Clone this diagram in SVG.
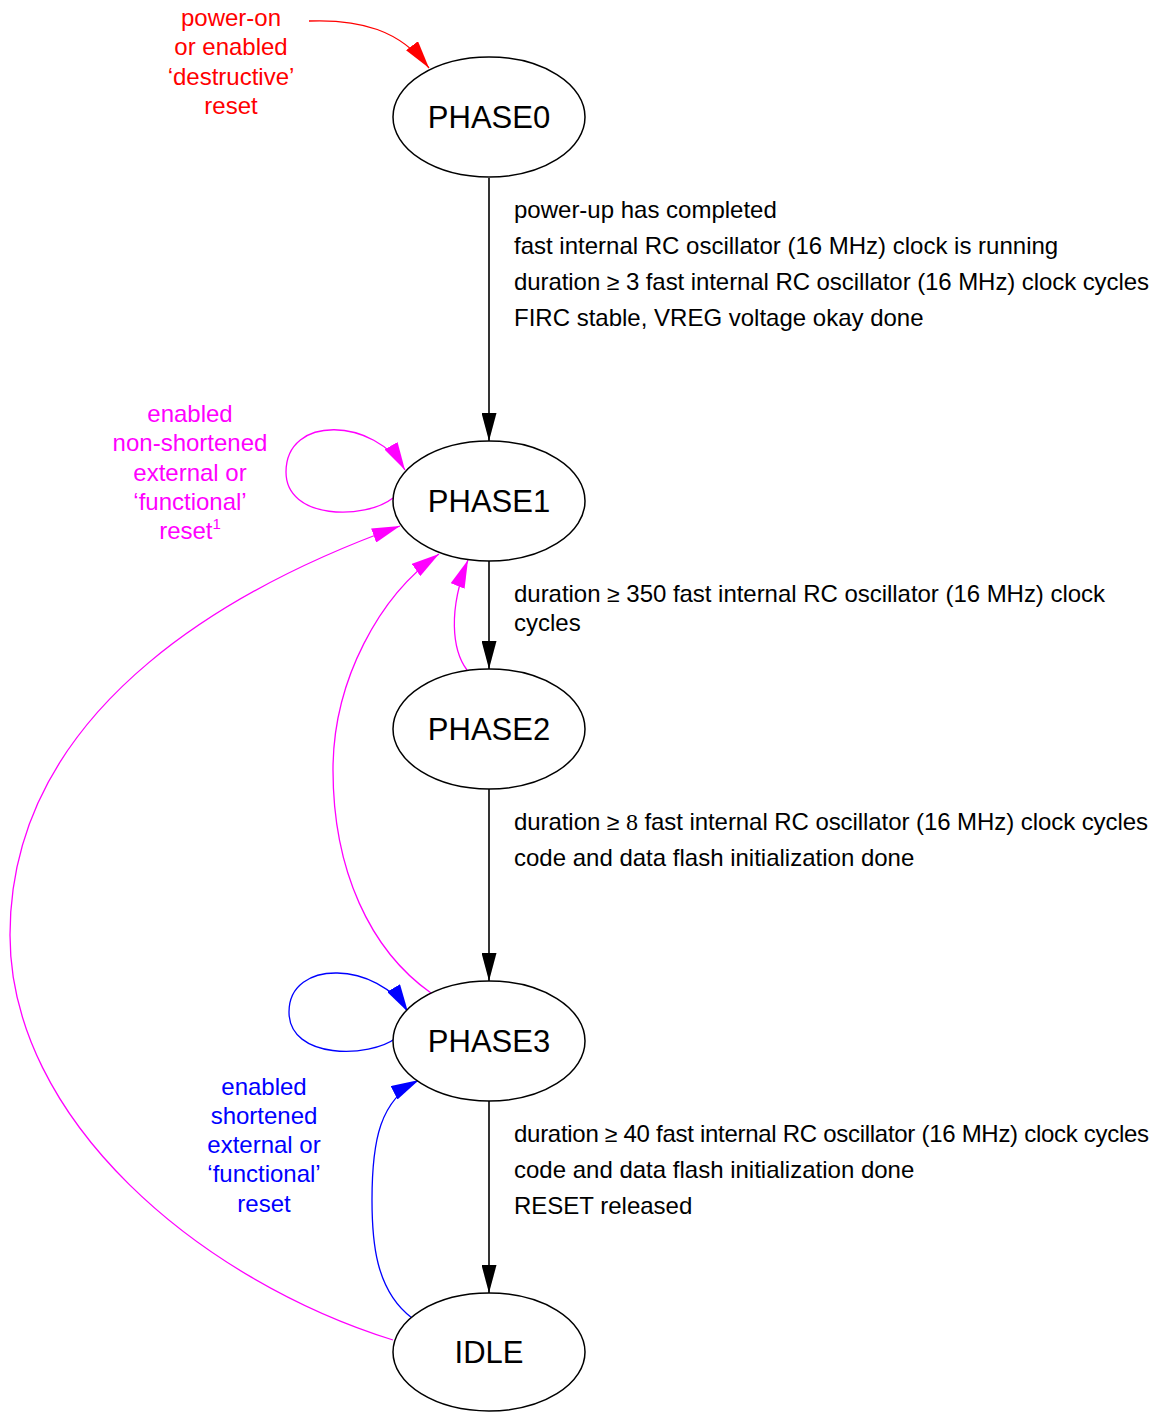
<svg xmlns="http://www.w3.org/2000/svg" width="1156" height="1412" viewBox="0 0 1156 1412">
<style>
text{font-family:"Liberation Sans",Arial,Helvetica,sans-serif}
.node ellipse{fill:#fff;stroke:#000;stroke-width:1.5}
.nl{font-size:31px;text-anchor:middle;fill:#000}
.el{font-size:24px;fill:#000}
.cl{font-size:24px;text-anchor:middle}
.ge{font-size:23px}
.e{fill:none;stroke-width:1.3}
.k{stroke:#000;stroke-width:1.6}
.r{stroke:#f00}
.m{stroke:#f0f}
.b{stroke:#00f}
</style>
<defs>
<marker id="ak" viewBox="0 0 28 15" refX="28" refY="7.5" markerWidth="28" markerHeight="15" markerUnits="userSpaceOnUse" orient="auto"><path d="M0,0 L28,7.5 L0,15 z" fill="#000"/></marker>
<marker id="ar" viewBox="0 0 28 15" refX="28" refY="7.5" markerWidth="28" markerHeight="15" markerUnits="userSpaceOnUse" orient="auto"><path d="M0,0 L28,7.5 L0,15 z" fill="#f00"/></marker>
<marker id="am" viewBox="0 0 28 15" refX="28" refY="7.5" markerWidth="28" markerHeight="15" markerUnits="userSpaceOnUse" orient="auto"><path d="M0,0 L28,7.5 L0,15 z" fill="#f0f"/></marker>
<marker id="ab" viewBox="0 0 28 15" refX="28" refY="7.5" markerWidth="28" markerHeight="15" markerUnits="userSpaceOnUse" orient="auto"><path d="M0,0 L28,7.5 L0,15 z" fill="#00f"/></marker>
</defs>
<g id="connectors">
<path class="e k" d="M489,178 L489,441" marker-end="url(#ak)"/>
<path class="e k" d="M489,561 L489,669" marker-end="url(#ak)"/>
<path class="e k" d="M489,789 L489,981" marker-end="url(#ak)"/>
<path class="e k" d="M489,1101 L489,1293" marker-end="url(#ak)"/>
<path class="e r" d="M309,21 C360,19 400,30 429,68" marker-end="url(#ar)"/>
<path class="e m" d="M393,498 C365,520 286,520 286,472 C286,414 375,418 405,470" marker-end="url(#am)"/>
<path class="e m" d="M393,1340 C200,1280 10,1120 10,935 C10,700 250,580 400,526" marker-end="url(#am)"/>
<path class="e m" d="M431,993 C370,950 333,870 333,770 C333,680 380,595 439,554" marker-end="url(#am)"/>
<path class="e m" d="M467,670 C452,650 448,610 468,560" marker-end="url(#am)"/>
<path class="e b" d="M396,1038 C370,1058 289,1060 289,1012 C289,958 378,962 408,1012" marker-end="url(#ab)"/>
<path class="e b" d="M412,1318 C375,1290 372,1240 372,1200 C372,1140 380,1100 419,1080" marker-end="url(#ab)"/>
</g>
<g id="labels">
<text class="cl" fill="#f00" x="231" y="26">power-on</text>
<text class="cl" fill="#f00" x="231" y="55">or enabled</text>
<text class="cl" fill="#f00" x="231" y="85">‘destructive’</text>
<text class="cl" fill="#f00" x="231" y="114">reset</text>
<text class="cl" fill="#f0f" x="190" y="422">enabled</text>
<text class="cl" fill="#f0f" x="190" y="451">non-shortened</text>
<text class="cl" fill="#f0f" x="190" y="481">external or</text>
<text class="cl" fill="#f0f" x="190" y="510">‘functional’</text>
<text class="cl" fill="#f0f" x="190" y="539">reset<tspan font-size="15" dy="-10">1</tspan></text>
<text class="cl" fill="#00f" x="264" y="1095">enabled</text>
<text class="cl" fill="#00f" x="264" y="1124">shortened</text>
<text class="cl" fill="#00f" x="264" y="1153">external or</text>
<text class="cl" fill="#00f" x="264" y="1182">‘functional’</text>
<text class="cl" fill="#00f" x="264" y="1212">reset</text>
<text class="el" x="514" y="218">power-up has completed</text>
<text class="el" x="514" y="254">fast internal RC oscillator (16 MHz) clock is running</text>
<text class="el" x="514" y="290" textLength="635" lengthAdjust="spacing">duration <tspan class="ge">≥</tspan> 3 fast internal RC oscillator (16 MHz) clock cycles</text>
<text class="el" x="514" y="326">FIRC stable, VREG voltage okay done</text>
<text class="el" x="514" y="602" textLength="591" lengthAdjust="spacing">duration <tspan class="ge">≥</tspan> 350 fast internal RC oscillator (16 MHz) clock</text>
<text class="el" x="514" y="631">cycles</text>
<text class="el" x="514" y="830" textLength="634" lengthAdjust="spacing">duration <tspan class="ge">≥</tspan> <tspan font-family="Liberation Serif,serif">8</tspan> fast internal RC oscillator (16 MHz) clock cycles</text>
<text class="el" x="514" y="866">code and data flash initialization done</text>
<text class="el" x="514" y="1142" textLength="635" lengthAdjust="spacing">duration <tspan class="ge">≥</tspan> 40 fast internal RC oscillator (16 MHz) clock cycles</text>
<text class="el" x="514" y="1178">code and data flash initialization done</text>
<text class="el" x="514" y="1214">RESET released</text>
</g>
<g id="PHASE0" class="node"><ellipse cx="489" cy="117" rx="96" ry="60"/><text class="nl" x="489" y="128">PHASE0</text></g>
<g id="PHASE1" class="node"><ellipse cx="489" cy="501" rx="96" ry="60"/><text class="nl" x="489" y="512">PHASE1</text></g>
<g id="PHASE2" class="node"><ellipse cx="489" cy="729" rx="96" ry="60"/><text class="nl" x="489" y="740">PHASE2</text></g>
<g id="PHASE3" class="node"><ellipse cx="489" cy="1041" rx="96" ry="60"/><text class="nl" x="489" y="1052">PHASE3</text></g>
<g id="IDLE" class="node"><ellipse cx="489" cy="1352" rx="96" ry="59"/><text class="nl" x="489" y="1363">IDLE</text></g>
</svg>
